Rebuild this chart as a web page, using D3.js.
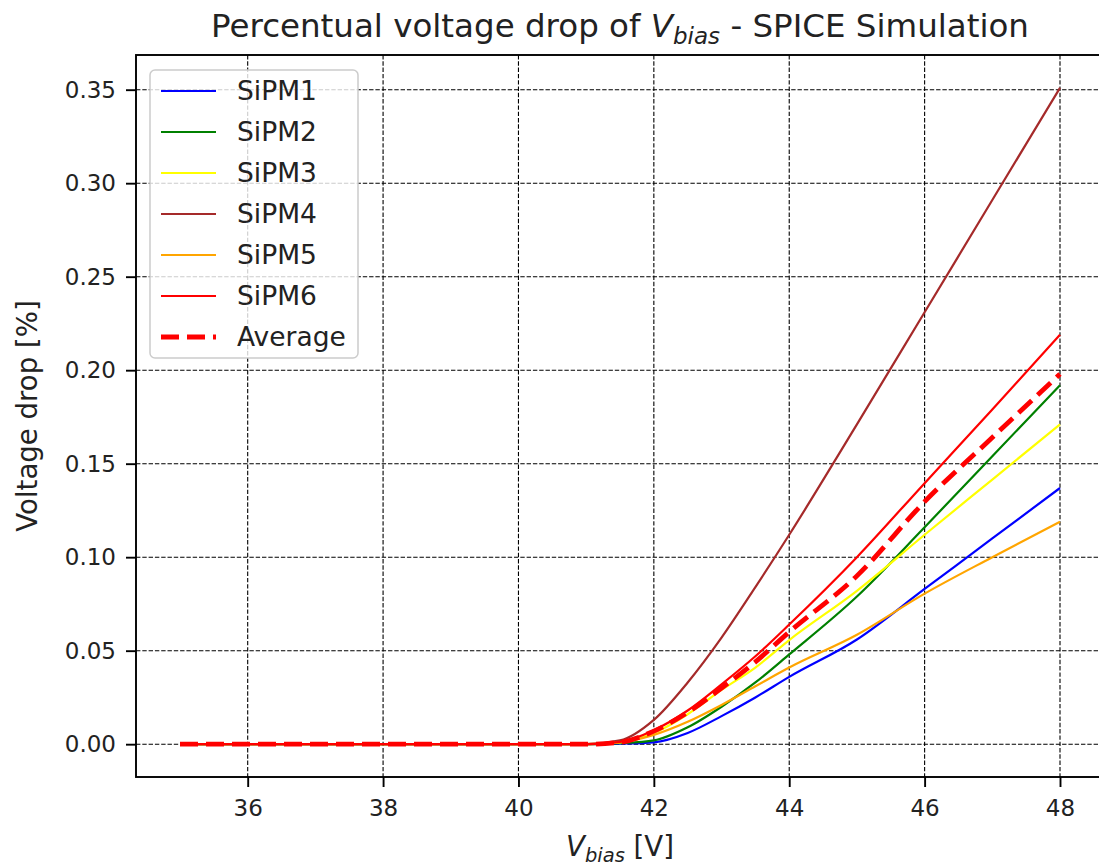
<!DOCTYPE html>
<html>
<head>
<meta charset="utf-8">
<script src="https://cdn.jsdelivr.net/npm/d3@7"></script>
<style>
  body { margin: 0; background: #fff; }
  svg { display: block; font-family: "DejaVu Sans", sans-serif; }
</style>
</head>
<body>
<svg id="chart" width="1099" height="867"></svg>
<script>
// bias voltage points (V) and percentual voltage drop per SiPM
const vbias = [35, 36, 37, 38, 39, 40, 41, 41.5, 42, 42.5, 43, 43.5, 44, 45, 46, 47, 48];

const sipm1 = [0, 0, 0, 0, 0, 0, 0, 0.0003, 0.001, 0.006, 0.015, 0.025, 0.036, 0.056, 0.083, 0.110, 0.137];
const sipm2 = [0, 0, 0, 0, 0, 0, 0, 0.0005, 0.002, 0.009, 0.020, 0.033, 0.048, 0.079, 0.116, 0.154, 0.192];
const sipm3 = [0, 0, 0, 0, 0, 0, 0, 0.001, 0.006, 0.016, 0.029, 0.041, 0.0557, 0.082, 0.112, 0.1415, 0.171];
const sipm4 = [0, 0, 0, 0, 0, 0, 0, 0.002, 0.013, 0.033, 0.057, 0.084, 0.112, 0.171, 0.231, 0.291, 0.351];
const sipm5 = [0, 0, 0, 0, 0, 0, 0, 0.001, 0.005, 0.012, 0.021, 0.031, 0.041, 0.0585, 0.0805, 0.100, 0.119];
const sipm6 = [0, 0, 0, 0, 0, 0, 0, 0.0012, 0.0075, 0.018, 0.032, 0.047, 0.064, 0.100, 0.1396, 0.179, 0.219];
const average = [0, 0, 0, 0, 0, 0, 0, 0.001, 0.007, 0.017, 0.030, 0.044, 0.060, 0.090, 0.1297, 0.164, 0.198];

const xTicks = [36, 38, 40, 42, 44, 46, 48];
const yTicks = [0, 0.05, 0.10, 0.15, 0.20, 0.25, 0.30, 0.35];

const series = [
  { name: 'SiPM1', values: sipm1, color: 'blue' },
  { name: 'SiPM2', values: sipm2, color: 'green' },
  { name: 'SiPM3', values: sipm3, color: 'yellow' },
  { name: 'SiPM4', values: sipm4, color: 'brown' },
  { name: 'SiPM5', values: sipm5, color: 'orange' },
  { name: 'SiPM6', values: sipm6, color: 'red' },
  { name: 'Average', values: average, color: 'red', dashed: true }
];

// layout (axes box, right spine falls just outside the picture)
const plotLeft = 136, plotRight = 1104, plotTop = 55, plotBottom = 777;
const svg = d3.select('#chart');

// matplotlib style 5% margins
const xPad = (d3.max(vbias) - d3.min(vbias)) * 0.05;
const allY = series.flatMap(s => s.values);
const yPad = (d3.max(allY) - d3.min(allY)) * 0.05;

const x = d3.scaleLinear()
  .domain([d3.min(vbias) - xPad, d3.max(vbias) + xPad])
  .range([plotLeft, plotRight]);
const y = d3.scaleLinear()
  .domain([d3.min(allY) - yPad, d3.max(allY) + yPad])
  .range([plotBottom, plotTop]);

// grid
const grid = svg.append('g');
grid.selectAll('.gx').data(xTicks).enter().append('line')
  .attr('x1', d => x(d)).attr('x2', d => x(d))
  .attr('y1', plotTop).attr('y2', plotBottom)
  .attr('stroke', '#000').attr('stroke-width', 1.1).attr('stroke-dasharray', '4.4,1.9');
grid.selectAll('.gy').data(yTicks).enter().append('line')
  .attr('x1', plotLeft).attr('x2', plotRight)
  .attr('y1', d => y(d)).attr('y2', d => y(d))
  .attr('stroke', '#000').attr('stroke-width', 1.1).attr('stroke-dasharray', '4.4,1.9');

// lines
const line = d3.line()
  .x((d, i) => x(vbias[i]))
  .y(d => y(d))
  .curve(d3.curveMonotoneX);

svg.append('defs').append('clipPath').attr('id', 'clip')
  .append('rect').attr('x', plotLeft).attr('y', plotTop)
  .attr('width', plotRight - plotLeft).attr('height', plotBottom - plotTop);

svg.append('g').attr('clip-path', 'url(#clip)')
  .selectAll('path').data(series).enter().append('path')
  .attr('d', d => line(d.values))
  .attr('fill', 'none')
  .attr('stroke', d => d.color)
  .attr('stroke-width', d => d.dashed ? 4.8 : 2.2)
  .attr('stroke-dasharray', d => d.dashed ? '18,8' : null);

// axes
const xAxis = svg.append('g')
  .attr('transform', `translate(0,${plotBottom})`)
  .call(d3.axisBottom(x).tickValues(xTicks).tickSize(10).tickPadding(13).tickFormat(d3.format('d')));
const yAxis = svg.append('g')
  .attr('transform', `translate(${plotLeft},0)`)
  .call(d3.axisLeft(y).tickValues(yTicks).tickSize(10).tickPadding(10).tickFormat(d3.format('.2f')));

[xAxis, yAxis].forEach(a => {
  a.select('.domain').remove();
  a.selectAll('.tick line').attr('stroke', '#000').attr('stroke-width', 1.9);
  a.selectAll('.tick text').attr('fill', '#222').style('font-size', '23px')
    .style('font-family', '"DejaVu Sans", sans-serif');
});

// spines
svg.append('rect')
  .attr('x', plotLeft).attr('y', plotTop)
  .attr('width', plotRight - plotLeft).attr('height', plotBottom - plotTop)
  .attr('fill', 'none').attr('stroke', '#000').attr('stroke-width', 1.9);

// title
const title = svg.append('text')
  .attr('x', (plotLeft + plotRight) / 2).attr('y', 37)
  .attr('text-anchor', 'middle')
  .attr('fill', '#222')
  .style('font-size', '32.5px');
title.append('tspan').text('Percentual voltage drop of ');
title.append('tspan').style('font-style', 'italic').text('V');
title.append('tspan').style('font-style', 'italic').style('font-size', '23px').attr('dy', 7).text('bias');
title.append('tspan').attr('dy', -7).text(' - SPICE Simulation');

// x label
const xl = svg.append('text')
  .attr('x', (plotLeft + plotRight) / 2).attr('y', 856)
  .attr('text-anchor', 'middle').attr('fill', '#222')
  .style('font-size', '27.6px');
xl.append('tspan').style('font-style', 'italic').text('V');
xl.append('tspan').style('font-style', 'italic').style('font-size', '19.5px').attr('dy', 6).text('bias');
xl.append('tspan').attr('dy', -6).text(' [V]');

// y label
svg.append('text')
  .attr('transform', `translate(37,${(plotTop + plotBottom) / 2}) rotate(-90)`)
  .attr('text-anchor', 'middle').attr('fill', '#222')
  .style('font-size', '27.6px')
  .text('Voltage drop [%]');

// legend
const legend = svg.append('g');
legend.append('rect')
  .attr('x', 150).attr('y', 70).attr('width', 208).attr('height', 288)
  .attr('rx', 5)
  .attr('fill', 'white').attr('fill-opacity', 0.8)
  .attr('stroke', '#ccc').attr('stroke-width', 1.5);
const items = legend.selectAll('.item').data(series).enter().append('g')
  .attr('transform', (d, i) => `translate(0,${91 + i * 41})`);
items.append('line')
  .attr('x1', 161).attr('x2', 216).attr('y1', 0).attr('y2', 0)
  .attr('stroke', d => d.color)
  .attr('stroke-width', d => d.dashed ? 4.8 : 2.2)
  .attr('stroke-dasharray', d => d.dashed ? '18,8' : null);
items.append('text')
  .attr('x', 237).attr('y', 9)
  .attr('fill', '#222')
  .style('font-size', '26.5px')
  .text(d => d.name);
</script>
</body>
</html>
